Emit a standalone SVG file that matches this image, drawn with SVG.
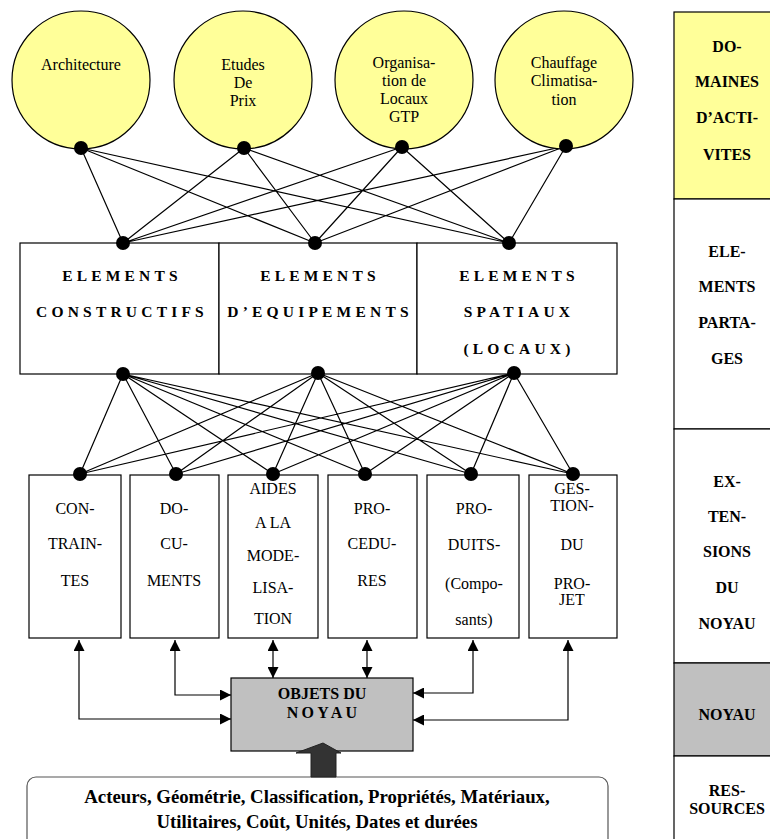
<svg xmlns="http://www.w3.org/2000/svg" width="770" height="839" viewBox="0 0 770 839">
<defs>
<style>
.c{fill:#ffff99;stroke:#000;stroke-width:1.2}
.b{fill:#fff;stroke:#000;stroke-width:1.2}
.g{fill:#c0c0c0;stroke:#000;stroke-width:1.2}
.y{fill:#ffff99;stroke:#000;stroke-width:1.2}
text{font-family:"Liberation Serif","Times New Roman","DejaVu Serif",serif;fill:#000;text-anchor:middle}
.t{font-size:16px}
.tb{font-size:16px;font-weight:bold}
.ts{font-size:15.5px;font-weight:bold;letter-spacing:4.2px}
.tr{font-size:18.8px;font-weight:bold}
.ln{stroke:#000;stroke-width:1.2;fill:none}
.dot{fill:#000}
</style>
<marker id="ah" viewBox="0 0 10 10" refX="10" refY="5" markerWidth="11" markerHeight="11" markerUnits="userSpaceOnUse" orient="auto-start-reverse"><path d="M0,0 L10,5 L0,10 z" fill="#000"/></marker>
</defs>
<rect width="770" height="839" fill="#fff"/>

<!-- right column -->
<g id="legend">
<rect class="y" x="674" y="12" width="110" height="187"/>
<rect class="b" x="674" y="199" width="110" height="230"/>
<rect class="b" x="674" y="429" width="110" height="234"/>
<rect class="g" x="674" y="663" width="110" height="93"/>
<rect class="b" x="674" y="756" width="110" height="100"/>
<text class="tb" x="727" y="52">DO-</text>
<text class="tb" x="727" y="87">MAINES</text>
<text class="tb" x="727" y="123">D’ACTI-</text>
<text class="tb" x="727" y="160">VITES</text>
<text class="tb" x="727" y="257">ELE-</text>
<text class="tb" x="727" y="292">MENTS</text>
<text class="tb" x="727" y="328">PARTA-</text>
<text class="tb" x="727" y="364">GES</text>
<text class="tb" x="727" y="487">EX-</text>
<text class="tb" x="727" y="522">TEN-</text>
<text class="tb" x="727" y="557">SIONS</text>
<text class="tb" x="727" y="593">DU</text>
<text class="tb" x="727" y="629">NOYAU</text>
<text class="tb" x="727" y="720">NOYAU</text>
<text class="tb" x="727" y="796">RES-</text>
<text class="tb" x="727" y="814">SOURCES</text>
</g>

<!-- connectors -->
<g id="connectors">
<path class="ln" d="M81,148 L123,243 M81,148 L315,243 M81,148 L509,243
M244,148 L123,243 M244,148 L315,243 M244,148 L509,243
M402,147 L123,243 M402,147 L315,243 M402,147 L509,243
M566,146 L123,243 M566,146 L315,243 M566,146 L509,243"/>
<path class="ln" d="M123,374 L80,474 M123,374 L176,474 M123,374 L273,474 M123,374 L365,474 M123,374 L471,474 M123,374 L573,474
M318,373 L80,474 M318,373 L176,474 M318,373 L273,474 M318,373 L365,474 M318,373 L471,474 M318,373 L573,474
M514,373 L80,474 M514,373 L176,474 M514,373 L273,474 M514,373 L365,474 M514,373 L471,474 M514,373 L573,474"/>
<path class="ln" d="M231,719 L79,719 L79,640" marker-start="url(#ah)" marker-end="url(#ah)"/>
<path class="ln" d="M231,695 L175,695 L175,640" marker-start="url(#ah)" marker-end="url(#ah)"/>
<path class="ln" d="M273,678 L273,640" marker-start="url(#ah)" marker-end="url(#ah)"/>
<path class="ln" d="M367,678 L367,640" marker-start="url(#ah)" marker-end="url(#ah)"/>
<path class="ln" d="M413,693 L473,693 L473,640" marker-start="url(#ah)" marker-end="url(#ah)"/>
<path class="ln" d="M413,720 L568,720 L568,640" marker-start="url(#ah)" marker-end="url(#ah)"/>
</g>

<!-- domain circles -->
<g id="architecture">
<circle class="c" cx="81" cy="80" r="69"/>
<text class="t" x="81" y="70">Architecture</text>
</g>
<g id="etudes">
<circle class="c" cx="243" cy="80" r="69"/>
<text class="t" x="243" y="70">Etudes</text>
<text class="t" x="243" y="88">De</text>
<text class="t" x="243" y="106">Prix</text>
</g>
<g id="organisation">
<circle class="c" cx="404" cy="80" r="69"/>
<text class="t" x="404" y="68">Organisa-</text>
<text class="t" x="404" y="86">tion de</text>
<text class="t" x="404" y="104">Locaux</text>
<text class="t" x="404" y="122">GTP</text>
</g>
<g id="chauffage">
<circle class="c" cx="564" cy="80" r="69"/>
<text class="t" x="564" y="68">Chauffage</text>
<text class="t" x="564" y="86">Climatisa-</text>
<text class="t" x="564" y="105">tion</text>
</g>

<!-- elements -->
<g id="elements-constructifs">
<rect class="b" x="20" y="243" width="199" height="131"/>
<text class="ts" x="122" y="281">ELEMENTS</text>
<text class="ts" x="122" y="317">CONSTRUCTIFS</text>
</g>
<g id="elements-equipements">
<rect class="b" x="219" y="243" width="198" height="131"/>
<text class="ts" x="320" y="281">ELEMENTS</text>
<text class="ts" x="320" y="317">D’EQUIPEMENTS</text>
</g>
<g id="elements-spatiaux">
<rect class="b" x="417" y="243" width="200" height="131"/>
<text class="ts" x="519" y="281">ELEMENTS</text>
<text class="ts" x="519" y="317">SPATIAUX</text>
<text class="ts" x="519" y="354">(LOCAUX)</text>
</g>

<!-- extension boxes -->
<g id="contraintes">
<rect class="b" x="29" y="475" width="92" height="163"/>
<text class="t" x="75" y="514">CON-</text>
<text class="t" x="75" y="549">TRAIN-</text>
<text class="t" x="75" y="586">TES</text>
</g>
<g id="documents">
<rect class="b" x="130" y="475" width="89" height="163"/>
<text class="t" x="174" y="514">DO-</text>
<text class="t" x="174" y="549">CU-</text>
<text class="t" x="174" y="586">MENTS</text>
</g>
<g id="aides">
<rect class="b" x="228" y="475" width="90" height="163"/>
<text class="t" x="273" y="494">AIDES</text>
<text class="t" x="273" y="528">A LA</text>
<text class="t" x="273" y="561">MODE-</text>
<text class="t" x="273" y="593">LISA-</text>
<text class="t" x="273" y="624">TION</text>
</g>
<g id="procedures">
<rect class="b" x="328" y="475" width="89" height="163"/>
<text class="t" x="372" y="514">PRO-</text>
<text class="t" x="372" y="549">CEDU-</text>
<text class="t" x="372" y="586">RES</text>
</g>
<g id="produits">
<rect class="b" x="427" y="475" width="92" height="163"/>
<text class="t" x="474" y="514">PRO-</text>
<text class="t" x="474" y="550">DUITS-</text>
<text class="t" x="474" y="589">(Compo-</text>
<text class="t" x="474" y="625">sants)</text>
</g>
<g id="gestion">
<rect class="b" x="529" y="475" width="88" height="163"/>
<text class="t" x="572" y="494">GES-</text>
<text class="t" x="572" y="511">TION-</text>
<text class="t" x="572" y="550">DU</text>
<text class="t" x="572" y="589">PRO-</text>
<text class="t" x="572" y="605">JET</text>
</g>

<!-- dots -->
<g id="dots">
<circle class="dot" cx="81" cy="148" r="7"/>
<circle class="dot" cx="244" cy="148" r="7"/>
<circle class="dot" cx="402" cy="147" r="7"/>
<circle class="dot" cx="566" cy="146" r="7"/>
<circle class="dot" cx="123" cy="243" r="7"/>
<circle class="dot" cx="315" cy="243" r="7"/>
<circle class="dot" cx="509" cy="243" r="7"/>
<circle class="dot" cx="123" cy="374" r="7"/>
<circle class="dot" cx="318" cy="373" r="7"/>
<circle class="dot" cx="514" cy="373" r="7"/>
<circle class="dot" cx="80" cy="474" r="7"/>
<circle class="dot" cx="176" cy="474" r="7"/>
<circle class="dot" cx="273" cy="474" r="7"/>
<circle class="dot" cx="365" cy="474" r="7"/>
<circle class="dot" cx="471" cy="474" r="7"/>
<circle class="dot" cx="573" cy="474" r="7"/>
</g>

<!-- noyau -->
<g id="objets-noyau">
<rect class="g" x="231" y="678" width="182" height="73"/>
<text class="tb" x="322" y="699">OBJETS DU</text>
<text class="tb" x="323.5" y="718" style="letter-spacing:3.3px">NOYAU</text>
</g>

<!-- resources -->
<g id="ressources">
<rect x="27" y="777" width="581" height="80" rx="9" ry="9" fill="#fff" stroke="#555" stroke-width="1.2"/>
<text class="tr" x="317" y="803">Acteurs, Géométrie, Classification, Propriétés, Matériaux,</text>
<text class="tr" x="317" y="828">Utilitaires, Coût, Unités, Dates et durées</text>
</g>
<g id="fat-arrow">
<path d="M311,777 L311,753 L296,753 L323,743 L341,753 L336,753 L336,777 Z" fill="#333" stroke="#222" stroke-width="1"/>
</g>
</svg>
